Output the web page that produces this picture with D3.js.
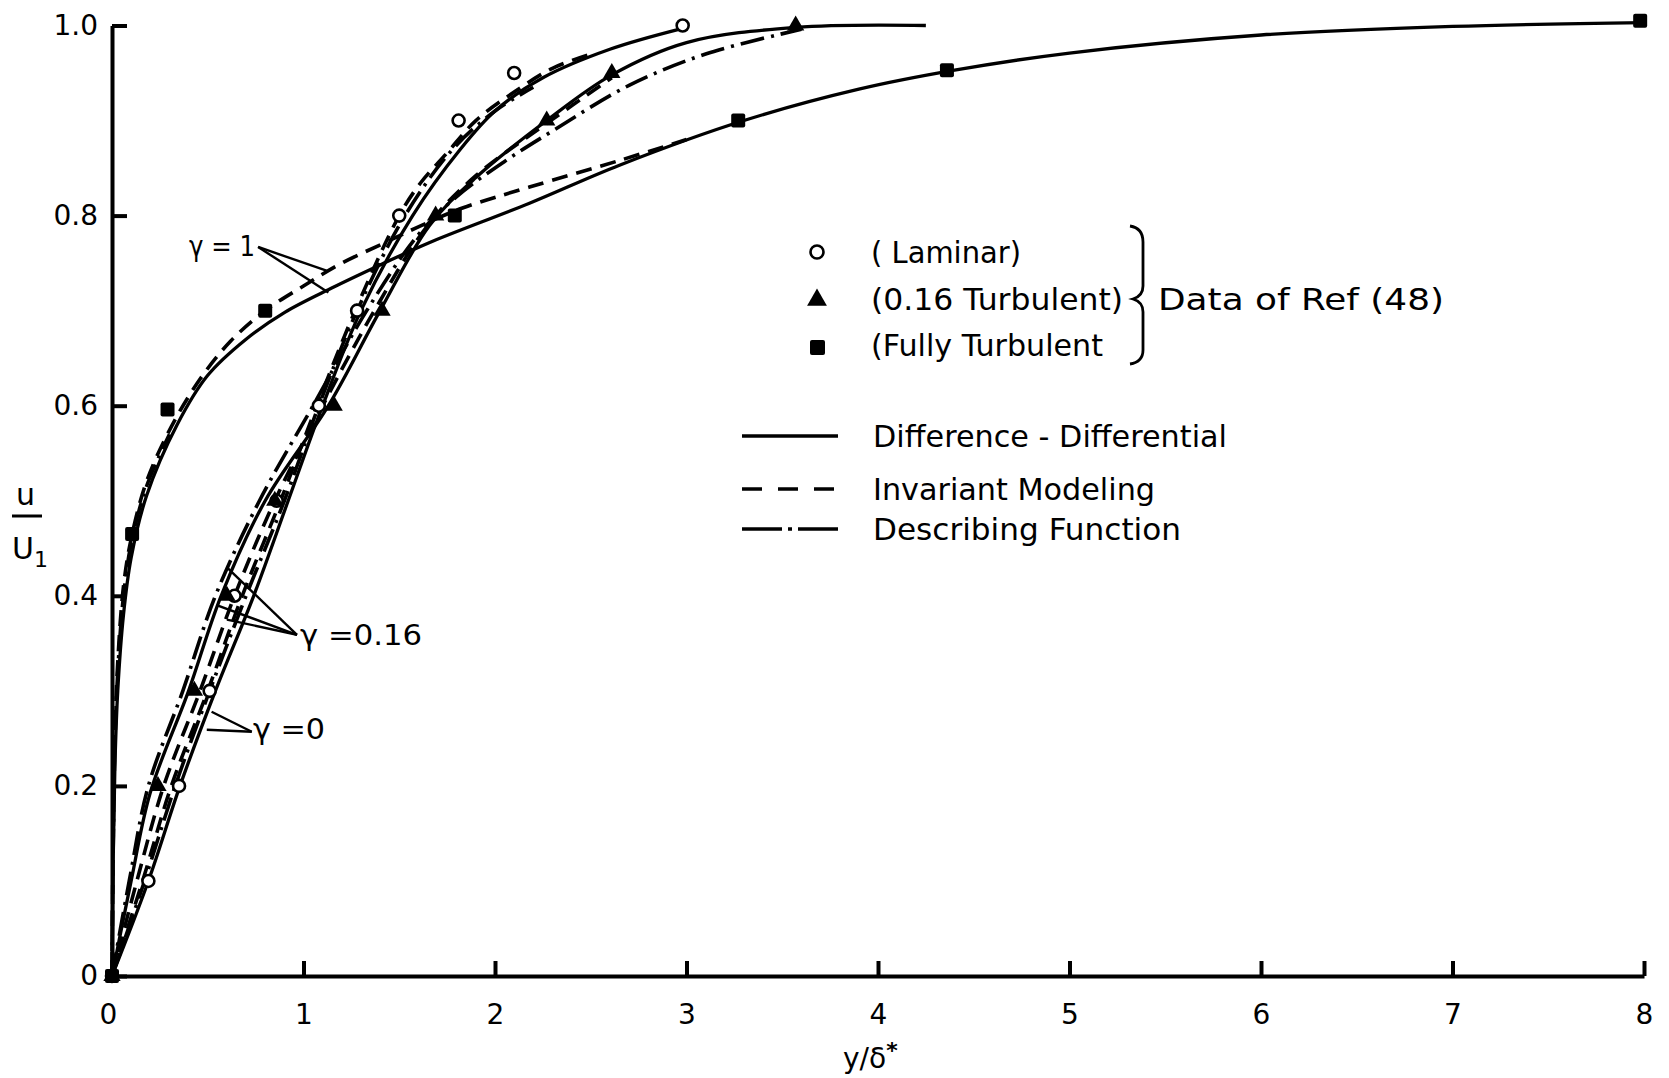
<!DOCTYPE html>
<html>
<head>
<meta charset="utf-8">
<script src="https://cdn.jsdelivr.net/npm/d3@7"></script>
<style>
  body { margin: 0; background: #fff; }
  text { font-family: "DejaVu Sans", sans-serif; fill: #000; }
</style>
</head>
<body>
<svg></svg>
<script>
var width = 1669;
var height = 1078;

// axis ticks
var xTicks = [0, 1, 2, 3, 4, 5, 6, 7, 8];
var yTicks = [0, 0.2, 0.4, 0.6, 0.8, 1.0];
var yTickLabels = ['0', '0.2', '0.4', '0.6', '0.8', '1.0'];

// measured data of Ref (48)
var laminarPts = [[0,0],[0.19,0.1],[0.35,0.2],[0.51,0.3],[0.64,0.4],[0.86,0.5],[1.08,0.6],[1.28,0.7],[1.5,0.8],[1.81,0.9],[2.1,0.95],[2.98,1.0]];
var turb016Pts = [[0,0],[0.24,0.2],[0.43,0.3],[0.6,0.4],[0.85,0.5],[1.16,0.6],[1.41,0.7],[1.69,0.8],[2.27,0.9],[2.61,0.95],[3.57,1.0]];
var fullTurbPts = [[0,0],[0.105,0.465],[0.29,0.596],[0.8,0.7],[1.79,0.8],[3.27,0.9],[4.36,0.953],[7.98,1.005]];

// gamma = 1 curves
var g1Diff = [[0,0],[0.006,0.12],[0.015,0.22],[0.03,0.3],[0.06,0.38],[0.1,0.44],[0.18,0.505],[0.34,0.58],[0.5,0.632],[0.7,0.67],[0.9,0.698],[1.15,0.724],[1.4,0.748],[1.65,0.771],[2.18,0.813],[2.65,0.853],[3.3,0.9],[3.9,0.933],[4.4,0.953],[5,0.971],[6,0.99],[7,0.999],[8,1.003]];
var g1Inv = [[0,0],[0.006,0.14],[0.015,0.25],[0.03,0.33],[0.06,0.41],[0.1,0.46],[0.18,0.52],[0.31,0.578],[0.46,0.628],[0.62,0.668],[0.8,0.7],[1.0,0.726],[1.2,0.75],[1.42,0.771],[1.62,0.79],[1.83,0.808],[2.18,0.83],[2.65,0.858],[3.0,0.88]];
var g1Desc = [[0,0],[0.006,0.13],[0.015,0.24],[0.03,0.32],[0.06,0.4],[0.1,0.455],[0.18,0.515],[0.3,0.57]];

// gamma = 0.16 curves
var g016Diff = [[0,0],[0.1,0.1],[0.2,0.193],[0.4,0.3],[0.57,0.4],[0.8,0.5],[1.13,0.6],[1.4,0.7],[1.66,0.79],[1.9,0.84],[2.27,0.9],[2.61,0.948],[3.0,0.982],[3.57,0.998],[4.25,1.0]];
var g016Inv = [[0,0],[0.13,0.1],[0.27,0.2],[0.46,0.3],[0.64,0.4],[0.85,0.5],[1.1,0.6],[1.37,0.7],[1.65,0.79],[1.9,0.842],[2.27,0.897],[2.61,0.945]];
var g016Desc = [[0,0],[0.09,0.1],[0.19,0.2],[0.37,0.3],[0.54,0.4],[0.77,0.5],[1.05,0.6],[1.33,0.7],[1.6,0.78],[1.8,0.82],[2.05,0.857],[2.3,0.889],[2.7,0.937],[3.1,0.97],[3.6,0.996]];

// gamma = 0 curves
var g0Diff = [[0,0],[0.19,0.1],[0.355,0.2],[0.54,0.3],[0.74,0.4],[0.92,0.5],[1.1,0.6],[1.3,0.7],[1.57,0.8],[1.82,0.87],[2.0,0.91],[2.25,0.945],[2.6,0.975],[2.98,0.997]];
var g0Inv = [[0,0],[0.16,0.1],[0.31,0.2],[0.5,0.3],[0.68,0.4],[0.88,0.5],[1.07,0.6],[1.27,0.7],[1.5,0.8],[1.61,0.834],[1.75,0.866],[1.9,0.9],[2.1,0.93],[2.3,0.955],[2.5,0.97]];
var g0Desc = [[0,0],[0.17,0.1],[0.33,0.2],[0.51,0.3],[0.7,0.4],[0.9,0.5],[1.08,0.6],[1.28,0.7],[1.53,0.8],[1.78,0.87],[2.0,0.91],[2.2,0.935]];

var dashed = '16,9';
var dashDot = '24,7,3,7';

var xScale = d3.scaleLinear().domain([0, 8]).range([112, 1644]);
var yScale = d3.scaleLinear().domain([0, 1]).range([976, 25.5]);

var svg = d3.select('svg')
    .attr('width', width)
    .attr('height', height);

// axes
var xAxis = d3.axisBottom(xScale)
    .tickValues(xTicks)
    .tickFormat(d3.format('d'))
    .tickSizeInner(-15)
    .tickSizeOuter(0)
    .tickPadding(28);
var yAxis = d3.axisLeft(yScale)
    .tickValues(yTicks)
    .tickFormat((d, i) => yTickLabels[i])
    .tickSizeInner(-15)
    .tickSizeOuter(0)
    .tickPadding(14);

var gx = svg.append('g')
    .attr('transform', 'translate(0,' + yScale(0) + ')')
    .call(xAxis);
var gy = svg.append('g')
    .attr('transform', 'translate(' + xScale(0) + ',0)')
    .call(yAxis);

svg.selectAll('.domain, .tick line')
    .attr('stroke', '#000')
    .attr('stroke-width', 4);
svg.selectAll('.tick text')
    .style('font-family', '"DejaVu Sans", sans-serif')
    .style('font-size', '28px')
    .attr('fill', '#000');
gx.select('.tick text').attr('dx', '-4');

// curves
var line = d3.line()
    .x(d => xScale(d[0]))
    .y(d => yScale(d[1]))
    .curve(d3.curveCatmullRom.alpha(0.5));

var curves = [
  [g1Diff, null], [g1Inv, dashed], [g1Desc, dashDot],
  [g016Diff, null], [g016Inv, dashed], [g016Desc, dashDot],
  [g0Diff, null], [g0Inv, dashed], [g0Desc, dashDot]
];

svg.append('g')
  .selectAll('path')
    .data(curves)
    .enter()
  .append('path')
    .attr('d', d => line(d[0]))
    .attr('fill', 'none')
    .attr('stroke', '#000')
    .attr('stroke-width', d => d[1] ? 3.6 : 3.3)
    .attr('stroke-dasharray', d => d[1]);

// data markers
svg.append('g')
  .selectAll('circle')
    .data(laminarPts)
    .enter()
  .append('circle')
    .attr('cx', d => xScale(d[0]))
    .attr('cy', d => yScale(d[1]))
    .attr('r', 6)
    .attr('fill', '#fff')
    .attr('stroke', '#000')
    .attr('stroke-width', 2.6);

svg.append('g')
  .selectAll('path')
    .data(turb016Pts)
    .enter()
  .append('path')
    .attr('transform', d => 'translate(' + xScale(d[0]) + ',' + yScale(d[1]) + ')')
    .attr('d', d3.symbol().type(d3.symbolTriangle).size(130))
    .attr('fill', '#000');

svg.append('g')
  .selectAll('rect')
    .data(fullTurbPts)
    .enter()
  .append('rect')
    .attr('x', d => xScale(d[0]) - 7)
    .attr('y', d => yScale(d[1]) - 7)
    .attr('width', 14)
    .attr('height', 14)
    .attr('rx', 2)
    .attr('fill', '#000');

// text helper
function label(x, y, txt, size, len) {
  var t = svg.append('text')
      .attr('x', x)
      .attr('y', y)
      .style('font-size', size + 'px')
      .text(txt);
  if (len) t.attr('textLength', len).attr('lengthAdjust', 'spacingAndGlyphs');
  return t;
}

// gamma annotations
function leaders(from, tos) {
  tos.forEach(function (p) {
    svg.append('line')
        .attr('x1', xScale(from[0])).attr('y1', yScale(from[1]))
        .attr('x2', xScale(p[0])).attr('y2', yScale(p[1]))
        .attr('stroke', '#000')
        .attr('stroke-width', 2.4);
  });
}
label(189, 256, 'γ = 1', 28, 66);
leaders([0.763, 0.767], [[1.12, 0.742], [1.13, 0.719]]);
label(300, 645, 'γ =0.16', 28, 122);
leaders([0.966, 0.359], [[0.6, 0.43], [0.55, 0.39], [0.6, 0.375]]);
label(253, 739, 'γ =0', 28, 72);
leaders([0.73, 0.257], [[0.52, 0.278], [0.495, 0.259]]);

// legend: data symbols
svg.append('circle')
    .attr('cx', 817).attr('cy', 252).attr('r', 6.5)
    .attr('fill', '#fff').attr('stroke', '#000').attr('stroke-width', 2.6);
svg.append('path')
    .attr('transform', 'translate(817,300)')
    .attr('d', d3.symbol().type(d3.symbolTriangle).size(170))
    .attr('fill', '#000');
svg.append('rect')
    .attr('x', 810).attr('y', 340).attr('width', 15).attr('height', 15).attr('rx', 2)
    .attr('fill', '#000');

label(871, 263, '( Laminar)', 30, 150);
label(871, 310, '(0.16 Turbulent)', 30, 252);
label(871, 356, '(Fully Turbulent', 30, 232);

svg.append('path')
    .attr('d', 'M1130,226 Q1143,228 1143,242 L1143,286 Q1143,296 1133,299 Q1143,302 1143,312 L1143,350 Q1143,362 1130,364')
    .attr('fill', 'none')
    .attr('stroke', '#000')
    .attr('stroke-width', 2.8);
label(1158, 310, 'Data  of  Ref  (48)', 30, 286);

// legend: line styles
var legendLines = [[436, null], [489, '20,16'], [529, '40,6,4,6']];
svg.selectAll('.legline')
    .data(legendLines)
    .enter()
  .append('line')
    .attr('x1', 742).attr('x2', 838)
    .attr('y1', d => d[0]).attr('y2', d => d[0])
    .attr('stroke', '#000')
    .attr('stroke-width', 3.3)
    .attr('stroke-dasharray', d => d[1]);

label(873, 447, 'Difference  - Differential', 30, 354);
label(873, 500, 'Invariant  Modeling', 30, 282);
label(873, 540, 'Describing  Function', 30, 308);

// axis titles
var xt = svg.append('text')
    .attr('x', 843)
    .attr('y', 1068)
    .style('font-size', '28px');
xt.append('tspan').text('y/δ');
xt.append('tspan').attr('dy', -10).style('font-size', '22px').style('font-weight', 'bold').text('*');

label(16, 505, 'u', 30);
svg.append('line')
    .attr('x1', 12).attr('x2', 42).attr('y1', 516).attr('y2', 516)
    .attr('stroke', '#000').attr('stroke-width', 3);
var yt = svg.append('text')
    .attr('x', 12)
    .attr('y', 559)
    .style('font-size', '30px');
yt.append('tspan').text('U');
yt.append('tspan').attr('dy', 8).style('font-size', '22px').text('1');
</script>
</body>
</html>
